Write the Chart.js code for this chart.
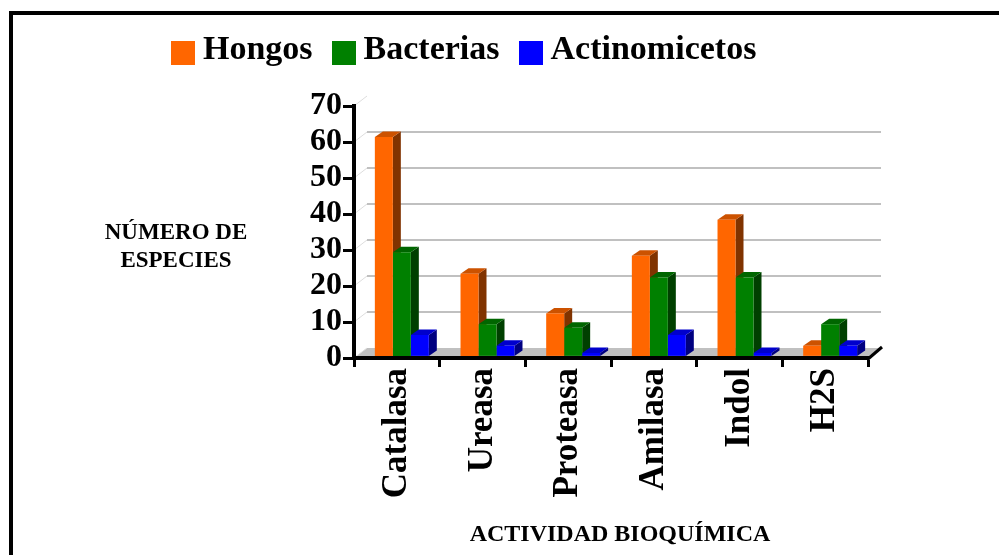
<!DOCTYPE html>
<html>
<head>
<meta charset="utf-8">
<title>Actividad bioquímica</title>
<script src="https://cdn.jsdelivr.net/npm/chart.js@4.4.1/dist/chart.umd.min.js"></script>
<style>
  html, body { margin: 0; padding: 0; background: #fff; }
  body {
    width: 999px; height: 555px; position: relative; overflow: hidden;
    font-family: "Liberation Serif", "Times New Roman", serif; font-weight: bold; color: #000;
  }
  #frame {
    position: absolute; left: 9px; top: 11px; right: -20px; bottom: -20px;
    border-left: 4px solid #000; border-top: 4px solid #000;
  }
  #wrap { position: absolute; left: 0; top: 0; width: 999px; height: 555px; }
  #legend {
    position: absolute; left: 171px; top: 31px; white-space: nowrap;
    font-size: 34px; line-height: 34px;
  }
  #legend .item { margin-right: 19px; }
  #legend i {
    display: inline-block; width: 24px; height: 24px; margin-right: 8px; vertical-align: -6px;
  }
  #ytitle {
    position: absolute; left: 76px; top: 218px; width: 200px; text-align: center;
    font-size: 23px; line-height: 28px;
  }
  #xtitle {
    position: absolute; left: 420px; top: 521px; width: 400px; text-align: center;
    font-size: 24px; line-height: 24px;
  }
</style>
</head>
<body>
<div id="frame"></div>
<div id="wrap"><canvas id="chart"></canvas></div>
<div id="legend"></div>
<div id="ytitle">NÚMERO DE<br>ESPECIES</div>
<div id="xtitle">ACTIVIDAD BIOQUÍMICA</div>
<script>
// datos
const categories = ["Catalasa", "Ureasa", "Proteasa", "Amilasa", "Indol", "H2S"];
const seriesNames = ["Hongos", "Bacterias", "Actinomicetos"];
const hongos = [60, 22, 11, 27, 37, 2];
const bacterias = [28, 8, 7, 21, 21, 8];
const actinomicetos = [5, 2, 0, 5, 0, 2];
const yTicks = [0, 10, 20, 30, 40, 50, 60, 70];

// colores: cara frontal, tapa, lateral
const frontColors = ["#ff6600", "#008000", "#0000ff"];
const topColors = ["#cc5200", "#006600", "#0000cc"];
const sideColors = ["#803300", "#004000", "#000080"];

const FONT = "'Liberation Serif', 'Times New Roman', serif";

// profundidad de la pared del fondo y de las barras
const WALL_DX = 13, WALL_DY = -10;
const BAR_DX = 8, BAR_DY = -5.5;
const SHIFT_X = 5, SHIFT_Y = -5;

// leyenda
const legend = document.getElementById("legend");
seriesNames.forEach((name, i) => {
  const span = document.createElement("span");
  span.className = "item";
  const box = document.createElement("i");
  box.style.background = frontColors[i];
  span.appendChild(box);
  span.appendChild(document.createTextNode(name));
  legend.appendChild(span);
});

const box3d = {
  id: "box3d",
  beforeDatasetsDraw(chart) {
    const { ctx, chartArea: a, scales: { y } } = chart;
    const y0 = y.getPixelForValue(0);
    ctx.save();

    // piso gris
    ctx.fillStyle = "#c0c0c0";
    ctx.beginPath();
    ctx.moveTo(a.left, y0);
    ctx.lineTo(a.right, y0);
    ctx.lineTo(a.right + WALL_DX, y0 + WALL_DY);
    ctx.lineTo(a.left + WALL_DX, y0 + WALL_DY);
    ctx.closePath();
    ctx.fill();

    // lineas de la pared
    yTicks.forEach(v => {
      const py = y.getPixelForValue(v);
      ctx.strokeStyle = "#dddddd";
      ctx.lineWidth = 1;
      ctx.beginPath();
      ctx.moveTo(a.left, py);
      ctx.lineTo(a.left + WALL_DX, py + WALL_DY);
      ctx.stroke();
      if (v > 0 && v < 70) {
        ctx.strokeStyle = "#c0c0c0";
        ctx.lineWidth = 2;
        ctx.beginPath();
        ctx.moveTo(a.left + WALL_DX, py + WALL_DY);
        ctx.lineTo(a.right + WALL_DX, py + WALL_DY);
        ctx.stroke();
      }
    });

    // borde derecho del piso
    ctx.strokeStyle = "#000";
    ctx.lineWidth = 3;
    ctx.beginPath();
    ctx.moveTo(a.right, y0 + 1);
    ctx.lineTo(a.right + WALL_DX + 1, y0 + WALL_DY - 1);
    ctx.stroke();

    // tapas y laterales (antes de las caras frontales)
    ctx.translate(SHIFT_X, SHIFT_Y);
    chart.data.datasets.forEach((ds, i) => {
      chart.getDatasetMeta(i).data.forEach(bar => {
        const p = bar.getProps(["x", "y", "base", "width"], true);
        const l = p.x - p.width / 2, r = p.x + p.width / 2;
        const top = Math.min(p.y, p.base), bot = Math.max(p.y, p.base);
        ctx.fillStyle = sideColors[i];
        ctx.beginPath();
        ctx.moveTo(r, top);
        ctx.lineTo(r + BAR_DX, top + BAR_DY);
        ctx.lineTo(r + BAR_DX, bot + BAR_DY);
        ctx.lineTo(r, bot);
        ctx.closePath();
        ctx.fill();
        ctx.fillStyle = topColors[i];
        ctx.beginPath();
        ctx.moveTo(l, top);
        ctx.lineTo(r, top);
        ctx.lineTo(r + BAR_DX, top + BAR_DY);
        ctx.lineTo(l + BAR_DX, top + BAR_DY);
        ctx.closePath();
        ctx.fill();
      });
    });
    ctx.restore();

    // las caras frontales se dibujan desplazadas hacia el fondo
    ctx.save();
    ctx.translate(SHIFT_X, SHIFT_Y);
  },
  afterDatasetsDraw(chart) {
    chart.ctx.restore();
  }
};

const seriesData = [hongos, bacterias, actinomicetos];

new Chart(document.getElementById("chart"), {
  type: "bar",
  data: {
    labels: categories,
    datasets: seriesNames.map((name, i) => ({
      label: name,
      data: seriesData[i],
      backgroundColor: frontColors[i],
      borderWidth: 0,
      base: -0.8,
      clip: false,
      categoryPercentage: 0.63,
      barPercentage: 1.0
    }))
  },
  options: {
    responsive: true,
    maintainAspectRatio: false,
    animation: false,
    devicePixelRatio: 1,
    layout: { padding: { left: 254, top: 106, right: 131, bottom: 0 } },
    plugins: { legend: { display: false }, tooltip: { enabled: false } },
    scales: {
      x: {
        afterFit: s => { s.height = 197; },
        grid: {
          offset: true, drawOnChartArea: false, drawTicks: true,
          tickLength: 9, tickWidth: 3, tickColor: "#000"
        },
        border: { display: true, color: "#000", width: 4, z: 1 },
        ticks: {
          autoSkip: false, minRotation: 90, maxRotation: 90, padding: 1,
          color: "#000", font: { family: FONT, size: 35, weight: "bold" }
        }
      },
      y: {
        min: yTicks[0], max: yTicks[yTicks.length - 1],
        afterFit: s => { s.width = 100; },
        grid: {
          drawOnChartArea: false, drawTicks: true,
          tickLength: 11, tickWidth: 3, tickColor: "#000"
        },
        border: { display: true, color: "#000", width: 4, z: 1 },
        ticks: {
          stepSize: 10, autoSkip: false, padding: 1, color: "#000",
          font: { family: FONT, size: 32, weight: "bold" }
        }
      }
    }
  },
  plugins: [box3d]
});
</script>
</body>
</html>
